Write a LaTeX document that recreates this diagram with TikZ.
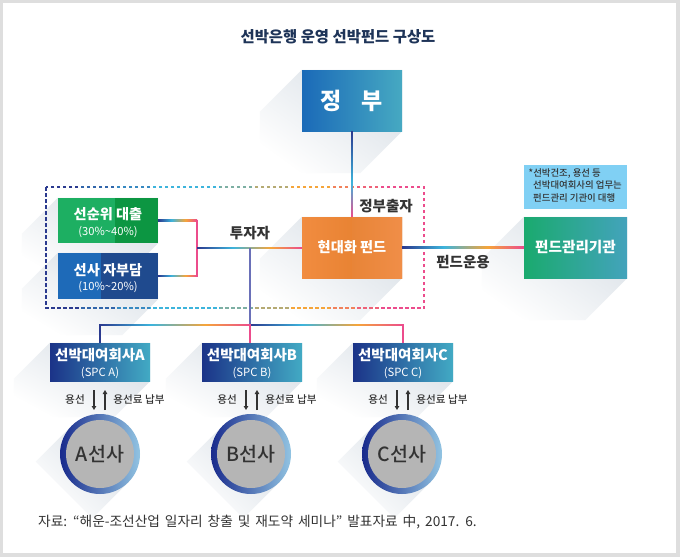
\documentclass[tikz,border=0pt]{standalone}
\usepackage{fontspec}
\setmainfont{Noto Sans CJK KR}
\newfontfamily\medfont{Noto Sans CJK KR Medium}
\usetikzlibrary{calc,fadings,arrows.meta}

\definecolor{cnavy}{HTML}{2B3A8F}
\definecolor{ccyan}{HTML}{3DB4DC}
\definecolor{corange}{HTML}{F5A53A}
\definecolor{cpink}{HTML}{EC4C8C}
\definecolor{cpurple}{HTML}{6A70B8}
\definecolor{ctext}{HTML}{333333}
\definecolor{ctitle}{HTML}{1E3458}
\definecolor{shadowc}{HTML}{BCC8D4}
\definecolor{gov1}{HTML}{1B6AB8}\definecolor{gov2}{HTML}{46A9C2}
\definecolor{gr1}{HTML}{1DAF62}\definecolor{gr2}{HTML}{0C9642}
\definecolor{bl1}{HTML}{1E6AB8}\definecolor{bl2}{HTML}{1F4A8E}
\definecolor{or1}{HTML}{F18C40}\definecolor{or2}{HTML}{E07A26}\definecolor{or3}{HTML}{F08E48}
\definecolor{fm1}{HTML}{1AAA6E}\definecolor{fm2}{HTML}{43A3BC}
\definecolor{notec}{HTML}{80D0F4}
\definecolor{spc1}{HTML}{1B3388}\definecolor{spc2}{HTML}{42AAC4}
\definecolor{ring1}{HTML}{182A8C}\definecolor{ring2}{HTML}{1AA4C4}\definecolor{ring3}{HTML}{92C4E2}
\definecolor{cgrey}{HTML}{B5B5B5}
\definecolor{framec}{HTML}{DEDEDE}

\pgfdeclarehorizontalshading{gradH}{100bp}{color(0bp)=(cnavy); color(25bp)=(cnavy); color(42bp)=(ccyan); color(60bp)=(corange); color(75bp)=(cpink); color(100bp)=(cpink)}
\pgfdeclareverticalshading{gradV}{100bp}{color(0bp)=(cpink); color(25bp)=(cpink); color(45bp)=(ccyan); color(75bp)=(cnavy); color(100bp)=(cnavy)}
\tikzfading[name=shfade, top color=transparent!45, bottom color=transparent!100]

\pgfdeclarelayer{bgframe}
\pgfdeclarelayer{bgshadow}
\pgfsetlayers{bgframe,bgshadow,main}

\newcommand\boxsh[2][40]{%
  \fill[shadowc, path fading=shfade, fading angle=-45]
   (#2.north west) -- (#2.north east) -- (#2.south east) -- ($(#2.south east)+(-#1,#1)$)
   -- ($(#2.south west)+(-#1,#1)$) -- ($(#2.north west)+(-#1,#1)$) -- cycle;}
\newcommand\circsh[2][40]{%
  \fill[shadowc, path fading=shfade, fading angle=-45]
   ($(#2.center)+(-28.3,-28.3)$) -- ($(#2.center)+(28.3,28.3)$) -- ($(#2.center)+(28.3-#1,28.3+#1)$)
   -- ($(#2.center)+(-28.3-#1,-28.3+#1)$) -- cycle;}
\newcommand\ringfill[1]{%
  \shade[left color=ring1, middle color=ring2, right color=ring3] (#1.center) circle (40);}
\newcommand\hshade[2]{\shade[shading=gradH] ($(#1)+(0,-0.8)$) rectangle ($(#2)+(0,0.8)$);}
\newcommand\vshade[2]{\shade[shading=gradV] ($(#1)+(-0.8,0)$) rectangle ($(#2)+(0.8,0)$);}

\begin{document}
\begin{tikzpicture}[x=1pt,y=-1pt,
  box/.style={inner sep=0pt, text=white, align=center},
  bigt/.style={font=\fontsize{14.2}{16}\selectfont\bfseries},
  lbl/.style={inner sep=0pt, text=ctext, font=\fontsize{14.5}{16}\selectfont\bfseries},
  small/.style={inner sep=0pt, text=ctext, font=\medfont\fontsize{10.6}{12}\selectfont},
  conn/.style={line width=1.6pt},
  arr/.style={line width=1.1pt, ctext, -{Triangle[length=4pt,width=4.5pt]}},
  shipc/.style={circle, fill=cgrey, minimum size=68pt, inner sep=0pt, text=ctext, font=\medfont\fontsize{19.5}{22}\selectfont},
  spcb/.style={box, left color=spc1, right color=spc2, minimum width=100pt, minimum height=38pt}
]
\useasboundingbox (0,0) rectangle (680,557);

% title
\node[inner sep=0pt, text=ctitle, font=\fontsize{15.4}{17}\selectfont\bfseries] (title) at (338,37) {선박은행 운영 선박펀드 구상도};

% main boxes
\node[box, left color=gov1, right color=gov2, minimum width=100pt, minimum height=61pt,
      font=\fontsize{23}{25}\selectfont\bfseries] (gov) at (352,100.5) {정\hspace{20pt}부};
\node[box, fill=gr1, minimum width=100pt, minimum height=45pt,
      path picture={\fill[gr2] ([xshift=57pt]path picture bounding box.south west) rectangle (path picture bounding box.north east);}]
      (sr) at (108,220.5) {};
\node[box, fill=bl1, minimum width=100pt, minimum height=46pt,
      path picture={\fill[bl2] ([xshift=43pt]path picture bounding box.south west) rectangle (path picture bounding box.north east);}]
      (sj) at (108,276) {};
\node[box, left color=or1, right color=or2, minimum width=100pt, minimum height=61pt,
      path picture={\shade[left color=or2, right color=or3] (path picture bounding box.south) rectangle (path picture bounding box.north east);}]
      (fund) at (352,247.5) {};
\node[box, left color=fm1, right color=fm2, minimum width=103pt, minimum height=61pt, bigt, font=\fontsize{14.6}{16}\selectfont\bfseries] (fm) at (575.5,247.5) {펀드관리기관};
\node[box, fill=notec, minimum width=103pt, minimum height=44pt] (note) at (575.5,187) {};

% texts inside boxes
\node[box, bigt] (srt) at (108,214) {선순위 대출};
\node[box, font=\fontsize{11.2}{12}\selectfont] (srs) at (108,232) {(30\%\textasciitilde40\%)};
\node[box, bigt] (sjt) at (108,270) {선사 자부담};
\node[box, font=\fontsize{11.2}{12}\selectfont] (sjs) at (108,287.5) {(10\%\textasciitilde20\%)};
\node[box, bigt] (fundt) at (352,247.5) {현대화 펀드};
\node[inner sep=0pt, text=ctext, align=left, anchor=north west, font=\medfont\fontsize{9.4}{12.5}\selectfont] (notet) at (528.5,168)
  {*선박건조, 용선 등\\\hspace*{4.5pt}선박대여회사의 업무는\\\hspace*{4.5pt}펀드관리 기관이 대행};

% labels
\node[lbl] (inv) at (250,233) {투자자};
\node[lbl] (govin) at (386,206) {정부출자};
\node[lbl] (oper) at (463,262) {펀드운용};

% SPC boxes
\foreach \n/\x/\l in {A/100/A, B/252/B, C/403/C}{
  \node[spcb] (spc\n) at (\x,362) {};
  \node[box, font=\fontsize{14.5}{16}\selectfont\bfseries] (spct\n) at (\x,355) {선박대여회사\l};
  \node[box, font=\fontsize{11.3}{12}\selectfont] (spcs\n) at (\x,373) {(SPC \l)};
  \node[small] (yl\n) at (\x-25,400) {용선};
  \node[small] (yr\n) at (\x+39,400) {용선료 납부};
  \coordinate (ad\n) at (\x-6,390);
  \coordinate (ae\n) at (\x-6,410);
  \coordinate (au\n) at (\x+5,410);
  \coordinate (av\n) at (\x+5,390);
  \draw[arr] (ad\n) -- (ae\n);
  \draw[arr] (au\n) -- (av\n);
}
\node[shipc] (shipA) at (100,454) {A선사};
\node[shipc] (shipB) at (251,454) {B선사};
\node[shipc] (shipC) at (402,454) {C선사};

% caption
\node[inner sep=0pt, anchor=west, text=ctext, font=\fontsize{13.7}{15}\selectfont] (cap) at (38,522)
  {\spaceskip=0.36em\relax 자료: “해운-조선산업 일자리 창출 및 재도약 세미나" 발표자료 中, 2017. 6.};

% connectors
\coordinate (jx) at (197,248);
\coordinate (j1) at (sr.east -| jx);
\coordinate (j2) at (sj.east -| jx);
\coordinate (invj) at (250,248);
\coordinate (bus) at (250,325);
\coordinate (busA) at (spcA.north |- bus);
\coordinate (busC) at (spcC.north |- bus);
\hshade{sr.east}{j1}
\hshade{sj.east}{j2}
\draw[conn, cpink, line cap=rect] (j1) -- (j2);
\hshade{jx}{fund.west}
\draw[conn, cpurple] (invj) -- (bus);
\vshade{gov.south}{fund.north}
\hshade{fund.east}{fm.west}
\hshade{busA}{bus}
\hshade{bus}{busC}
\draw[conn, cnavy] ($(busA)+(0,-0.8)$) -- (spcA.north);
\draw[conn, cpink] ($(bus)+(0,-0.8)$) -- (bus |- spcB.north);
\draw[conn, cpink] ($(busC)+(0,-0.8)$) -- (spcC.north);

% background frame, shadows, dashed gradient frame
\begin{pgfonlayer}{bgframe}
  \fill[framec] (0,0) rectangle (680,557);
  \fill[white] (3,3) rectangle (676,553);
\end{pgfonlayer}
\begin{pgfonlayer}{bgshadow}
  \boxsh[42]{gov}
  \boxsh[36]{sr}
  \boxsh[36]{sj}
  \boxsh[42]{fund}
  \boxsh[42]{fm}
  \boxsh[36]{spcA}\boxsh[36]{spcB}\boxsh[36]{spcC}
  \circsh[36]{shipA}\circsh[36]{shipB}\circsh[36]{shipC}
  \ringfill{shipA}\ringfill{shipB}\ringfill{shipC}
  \foreach \xa/\xb/\c in {30/80/cnavy, 80/115/cnavy!65!ccyan, 115/150/cnavy!35!ccyan, 150/220/ccyan,
      220/255/ccyan!65!corange, 255/290/ccyan!35!corange, 290/330/corange, 330/355/corange!60!cpink,
      355/380/corange!25!cpink, 380/440/cpink}{
    \begin{scope}
      \clip (\xa,170) rectangle (\xb,320);
      \draw[\c, line width=1.5pt, dash pattern=on 3.5pt off 2.5pt] (46,187) rectangle (424,308);
    \end{scope}
  }
\end{pgfonlayer}
\end{tikzpicture}
\end{document}
